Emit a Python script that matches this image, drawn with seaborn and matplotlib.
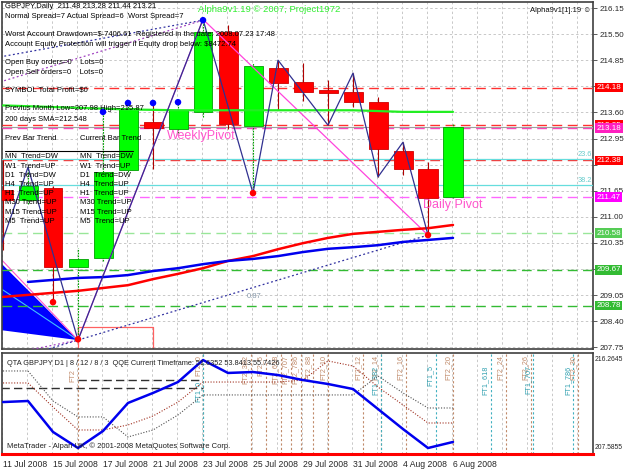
import numpy as np
import pandas as pd
import matplotlib.pyplot as plt
import matplotlib.transforms as mtransforms
import seaborn as sns

sns.set_style("white")
plt.rcParams['font.family'] = ['Liberation Sans', 'DejaVu Sans']

# --- GBPJPY daily bars ---
bar_dates = ['11 Jul 2008', '14 Jul 2008', '15 Jul 2008', '16 Jul 2008', '17 Jul 2008',
             '18 Jul 2008', '21 Jul 2008', '22 Jul 2008', '23 Jul 2008', '24 Jul 2008',
             '25 Jul 2008', '28 Jul 2008', '29 Jul 2008', '30 Jul 2008', '31 Jul 2008',
             '1 Aug 2008', '4 Aug 2008', '5 Aug 2008', '6 Aug 2008']
opens  = [211.65, 211.40, 211.69, 209.74, 209.96, 212.14, 213.33, 213.16, 213.58, 215.56,
          213.23, 214.67, 214.32, 214.12, 214.07, 213.82, 212.61, 212.17, 211.48]
highs  = [212.39, 212.21, 211.75, 210.21, 213.56, 213.80, 213.80, 213.82, 215.87, 215.73,
          214.80, 214.86, 214.79, 214.37, 214.54, 213.95, 212.83, 212.34, 213.28]
lows   = [210.16, 211.30, 208.87, 207.93, 209.90, 212.10, 212.16, 213.05, 213.45, 213.15,
          211.57, 213.62, 213.85, 213.25, 213.70, 211.97, 212.02, 210.53, 211.44]
closes = [211.40, 211.74, 209.74, 209.94, 212.09, 213.68, 213.18, 213.63, 215.56, 213.28,
          214.71, 214.29, 214.07, 214.05, 213.82, 212.66, 212.17, 211.45, 213.21]

# moving averages
ma_red  = [209.00, 209.05, 209.10, 209.15, 209.22, 209.29, 209.44, 209.57, 209.71, 209.89,
           210.01, 210.18, 210.33, 210.46, 210.56, 210.61, 210.66, 210.70, 210.78]
ma_blue = [np.nan, 209.37, 209.42, 209.47, 209.49, 209.54, 209.64, 209.71, 209.81, 209.89,
           209.94, 210.01, 210.11, 210.19, 210.23, 210.28, 210.36, 210.41, 210.46]
ma_green = [213.74, 213.72, 213.70, 213.68, 213.66, 213.64, 213.63, 213.62, 213.62, 213.62,
            213.62, 213.62, 213.62, 213.62, 213.62, 213.60, 213.58, 213.58, 213.58]

# zigzag turning points (bar index, price)
zz_idx   = [-1, 1, 3, 8, 10, 11, 13, 14, 15, 16, 17]
zz_price = [208.62, 212.21, 207.93, 215.87, 211.57, 214.86, 213.25, 214.54, 211.97, 212.83, 210.53]

# fractal dots
up_idx, up_price = [4, 5, 6, 7, 8], [213.58, 213.80, 213.80, 213.82, 215.85]
dn_idx, dn_price = [2, 3, 10, 17], [208.87, 207.95, 211.57, 210.53]

# horizontal levels: price, line colour, label, box colour
levels = [(214.18, '#ff3030', '214.18', '#ff0000'),
          (213.25, '#ff3030', '213.25', '#ff0000'),
          (213.18, '#ff40c0', '213.18', '#ff20c0'),
          (212.38, '#ff3030', '212.38', '#ff0000'),
          (211.47, '#ff66ff', '211.47', '#ff00ff'),
          (210.58, '#99e699', '210.58', '#55cc55'),
          (209.67, '#33bb33', '209.67', '#33bb33'),
          (208.78, '#33bb33', '208.78', '#33bb33')]
fib_levels = [212.41, 211.77]
fib_names = ['23.6', '38.2']
bid = 213.21

price_tick_labels = ['207.75', '208.40', '209.05', '', '210.35', '211.00', '211.65',
                     '', '212.95', '213.60', '', '214.85', '215.50', '216.15']

# lower window (QTA / QQE)
qqe_line = [212.05, 212.14, 209.48, 208.10, 209.56, 211.97, 212.83, 213.77, 215.66, 214.55,
            214.63, 214.37, 213.94, 213.60, 213.17, 211.45, 209.73, 208.10, 208.62]
qqe_slow = [214.72, 214.72, 212.14, 210.77, 210.77, 209.05, 209.65, 210.94, 212.66, 212.66,
            212.66, 212.66, 212.66, 212.66, 212.66, 214.29, 212.83, 211.54, 211.54]
qqe_fast = [213.69, 213.69, 211.62, 209.65, 209.65, 210.08, 210.85, 212.05, 213.77, 213.77,
            213.77, 213.77, 213.94, 215.58, 215.15, 213.34, 211.80, 210.25, 210.25]

# fibonacci time lines (bar index positions)
ft2_pos = [3.0, 8.0, 9.9, 10.5, 11.1, 11.5, 11.9, 12.4, 13.0, 14.4, 15.1, 16.1, 18.0, 20.1, 21.1, 23.0]
ft2_names = ['FT2', 'FT2_0', 'FT2_382', 'FT2_5', 'FT2_618', 'FT2_707', 'FT2_786', 'FT2_88',
             'FT2_10', 'FT2_12', 'FT2_14', 'FT2_16', 'FT2_20', 'FT2_24', 'FT2_26', 'FT2_30']
ft1_pos = [8.0, 15.1, 17.3, 19.5, 21.2, 22.8]
ft1_names = ['FT1_0', 'FT1_382', 'FT1_5', 'FT1_618', 'FT1_707', 'FT1_786']

W, H = 625, 469
fig = plt.figure(figsize=(W / 100, H / 100), dpi=100)
fig.patch.set_facecolor('white')
ax = fig.add_axes([2 / W, 1 - 349 / H, 591 / W, 347 / H])
ax2 = fig.add_axes([2 / W, 1 - 454 / H, 591 / W, 101 / H])

x_lo, x_hi = -0.04, 23.6
n = len(opens)
idx = np.arange(n)

for a in (ax, ax2):
    a.set_xlim(x_lo, x_hi)
    a.set_facecolor('white')
    for s in a.spines.values():
        s.set_color('#404040')
        s.set_linewidth(1.2)
    # vertical grid, one per bar
    for k in range(0, 24):
        a.axvline(k - 0.04, color='#c8c8c8', lw=0.7, ls=(0, (2.5, 2.5)), zorder=0)

ax.set_ylim(207.71, 216.30)
ax2.set_ylim(207.5855, 216.2645)

price_ticks = np.linspace(207.75, 216.15, 14)
for p in price_ticks:
    ax.axhline(p, color='#c8c8c8', lw=0.7, ls=(0, (2.5, 2.5)), zorder=0)

# blue fan + rectangle on the left
ax.fill([-0.12, 3, -0.12], [209.86, 207.93, 208.18], color='#0000ff', lw=0, zorder=2)
ax.plot([-0.12, 3], [209.22, 207.93], color='#40c0ff', lw=0.8, zorder=2)
ax.plot([-0.12, 3], [209.96, 207.93], color='#ff55cc', lw=0.8, zorder=2)
ax.plot([3, 3, 6, 6], [207.6, 208.25, 208.25, 207.6], color='#ff6060', lw=0.9, zorder=2)

# levels
for p, c, lab, bc in levels:
    ax.axhline(p, color=c, lw=1.0, ls=(0, (7, 4)), zorder=3)
for p in fib_levels:
    ax.axhline(p, color='#66dddd', lw=0.9, zorder=3)
ax.axhline(bid, color='#a0a0a0', lw=0.8, zorder=3)

# dotted trend lines
ax.plot([-0.12, 8], [214.94, 215.85], color='#3030a0', lw=0.9, ls=(0, (1.5, 2)), zorder=3)
ax.plot([-0.12, 8], [214.32, 215.85], color='#a040c0', lw=0.9, ls=(0, (1.5, 2)), zorder=3)
ax.plot([1, 17], [207.56, 210.53], color='#3030a0', lw=0.9, ls=(0, (1.5, 2)), zorder=3)
ax.plot([1, 3], [207.68, 207.93], color='#a040c0', lw=0.9, ls=(0, (1.5, 2)), zorder=3)
ax.text(9.75, 208.97, '0.87', color='#8899aa', fontsize=5.5, zorder=4)

# candles
for i in range(n):
    o, h, l, c = opens[i], highs[i], lows[i], closes[i]
    up = c >= o
    body_c = '#00ff00' if up else '#ff0000'
    edge_c = '#00a000' if up else '#d00000'
    wick_c = '#00a000' if up else '#b00000'
    ax.vlines(i, l, h, color=wick_c, lw=0.8, ls=(0, (1.5, 1)) if up else '-', zorder=4)
    ax.bar(i, max(abs(c - o), 0.03), bottom=min(o, c), width=0.76, color=body_c,
           edgecolor=edge_c, lw=0.6, zorder=5)

# magenta lines through swing points
ax.plot([3, 8, 17], [207.93, 215.87, 210.53], color='#ff44dd', lw=0.9, zorder=6)

# moving averages
df = pd.DataFrame({'idx': idx, 'red': ma_red, 'blue': ma_blue, 'green': ma_green})
sns.lineplot(data=df, x='idx', y='green', color='#22ee22', lw=1.6, ax=ax, zorder=6)
sns.lineplot(data=df, x='idx', y='red', color='#ff0000', lw=1.8, ax=ax, zorder=6)
sns.lineplot(data=df.dropna(), x='idx', y='blue', color='#0000ee', lw=1.8, ax=ax, zorder=6)

# zigzag
ax.plot(zz_idx, zz_price, color='#303090', lw=0.9, zorder=7)
sns.scatterplot(x=up_idx, y=up_price, color='#0000ff', s=22, edgecolor='none', ax=ax, zorder=8)
sns.scatterplot(x=dn_idx, y=dn_price, color='#ff0000', s=22, edgecolor='none', ax=ax, zorder=8)

ax.text(6.55, 212.92, 'WeeklyPivot', color='#ff55cc', fontsize=9, zorder=9)
ax.text(16.8, 211.2, 'Daily Pivot', color='#ff55cc', fontsize=9, zorder=9)

# right price scale
ax.yaxis.tick_right()
ax.set_yticks(price_ticks)
ax.set_yticklabels(price_tick_labels)
ax.tick_params(axis='y', labelsize=5.8, length=3, width=0.6, color='#404040', pad=1.5)
ax.set_xticks([])
ax.set_xlabel('')
ax.set_ylabel('')

trans = mtransforms.blended_transform_factory(ax.transAxes, ax.transData)
for p, c, lab, bc in levels:
    ax.text(1.006, p, lab, transform=trans, fontsize=5.8, color='white', va='center',
            ha='left', bbox=dict(boxstyle='square,pad=0.15', fc=bc, ec='none'), clip_on=False)
for p, nm in zip(fib_levels, fib_names):
    ax.text(0.998, p + 0.03, nm, transform=trans, fontsize=5.3, color='#66cccc',
            ha='right', va='bottom')

# lower window
dfq = pd.DataFrame({'idx': idx, 'qqe': qqe_line, 'slow': qqe_slow, 'fast': qqe_fast})
for p_, nm in zip(ft2_pos, ft2_names):
    ax2.axvline(p_, color='#c08a6a', lw=0.8, ls=(0, (2, 2)), zorder=1)
    ax2.text(p_ - 0.06, 216.1 if p_ > 4 else 214.9, nm, rotation=90, fontsize=5.2,
             ha='right', va='top', color='#c08a6a', zorder=2)
for p_, nm in zip(ft1_pos, ft1_names):
    ax2.axvline(p_, color='#40b0c0', lw=0.8, ls=(0, (2, 2)), zorder=1)
    ax2.text(p_ - 0.06, 215.2 if p_ > 9 else 213.9, nm, rotation=90, fontsize=5.2,
             ha='right', va='top', color='#30a0b0', zorder=2)
ax2.plot([3, 8], [213.94, 213.94], color='#303030', lw=1.0, ls=(0, (6, 3)), zorder=2)
ax2.plot([-0.1, 8], [213.26, 213.26], color='#303030', lw=1.0, ls=(0, (6, 3)), zorder=2)
sns.lineplot(data=dfq, x='idx', y='slow', color='#505050', lw=0.8, ls=(0, (1, 1.5)), ax=ax2, zorder=3)
sns.lineplot(data=dfq, x='idx', y='fast', color='#a03020', lw=0.8, ls=(0, (1, 1.5)), ax=ax2, zorder=3)
sns.lineplot(data=dfq, x='idx', y='qqe', color='#0000ee', lw=1.8, ax=ax2, zorder=4)
ax2.spines['bottom'].set_color('#ff0000')
ax2.spines['bottom'].set_linewidth(2.2)
ax2.set_ylabel('')
ax2.set_xlabel('')
ax2.set_yticks([])
trans2 = mtransforms.blended_transform_factory(ax2.transAxes, ax2.transAxes)
ax2.text(1.002, 0.97, '216.2645', transform=trans2, fontsize=4.9, va='top', ha='left')
ax2.text(1.002, 0.03, '207.5855', transform=trans2, fontsize=4.9, va='bottom', ha='left')
ax2.set_xticks(range(0, n, 2))
ax2.set_xticklabels([bar_dates[i] for i in range(0, n, 2)])
ax2.tick_params(axis='x', labelsize=6.2, length=3, width=0.6, pad=1.5, color='#404040')
for t in ax2.get_xticklabels():
    t.set_ha('left')

ax2.text(0.008, 0.93, 'QTA GBPJPY D1 | 8 / 12 / 8 / 3  QQE Current Timeframe: 51.6352 53.8413 55.7426',
         transform=ax2.transAxes, fontsize=5.3, va='top', color='#202020', zorder=6)
ax2.text(0.008, 0.04, 'MetaTrader - Alpari UK, \u00a9 2001-2008 MetaQuotes Software Corp.',
         transform=ax2.transAxes, fontsize=5.5, va='bottom', color='#202020', zorder=6)

# info text block (top-left)
info = [(5, 7, 'GBPJPY,Daily  211.48 213.28 211.44 213.21'),
        (5, 16, 'Normal Spread=7 Actual Spread=6  Worst Spread=7'),
        (5, 34, 'Worst Account Drawdown=$-7406.61  Registered in the date: 2008.07.23 17:48'),
        (5, 44, 'Account Equity Protection will trigger if Equity drop below: $8472.74'),
        (5, 62, 'Open Buy orders=0    Lots=0'),
        (5, 72, 'Open Sell orders=0    Lots=0'),
        (5, 90, 'SYMBOL Total Profit=$0'),
        (5, 109, 'Previus Month Low=207.98 High=215.87'),
        (5, 119, '200 days SMA=212.548'),
        (5, 138, 'Prev Bar Trend'),
        (80, 138, 'Current Bar Trend')]
tf = ['MN', 'W1', 'D1', 'H4', 'H1', 'M30', 'M15', 'M5']
prev_tr = ['DW', 'UP', 'DW', 'UP', 'UP', 'UP', 'UP', 'UP']
cur_tr = ['DW', 'UP', 'DW', 'UP', 'UP', 'UP', 'UP', 'UP']
for k in range(len(tf)):
    y = 157 + k * 9.2
    info.append((5, y, f'{tf[k]:<4}Trend={prev_tr[k]}'))
    info.append((80, y, f'{tf[k]:<4}Trend={cur_tr[k]}'))
for x, y, s in info:
    fig.text(x / W, 1 - y / H, s, fontsize=5.5, va='center', ha='left', color='#000000', zorder=20)
fig.add_artist(plt.Line2D([5 / W, 133 / W], [1 - 151 / H, 1 - 151 / H], color='black', lw=0.8))

fig.text(198 / W, 1 - 10 / H, 'Alpha9v1.19 \u00a9 2007, Project1972', fontsize=6.8,
         color='#33ee33', va='center')
fig.text(530 / W, 1 - 10 / H, 'Alpha9v1[1].19 \u263a', fontsize=5.5, color='#111111',
         va='center')

fig.savefig('out.png', dpi=100)
